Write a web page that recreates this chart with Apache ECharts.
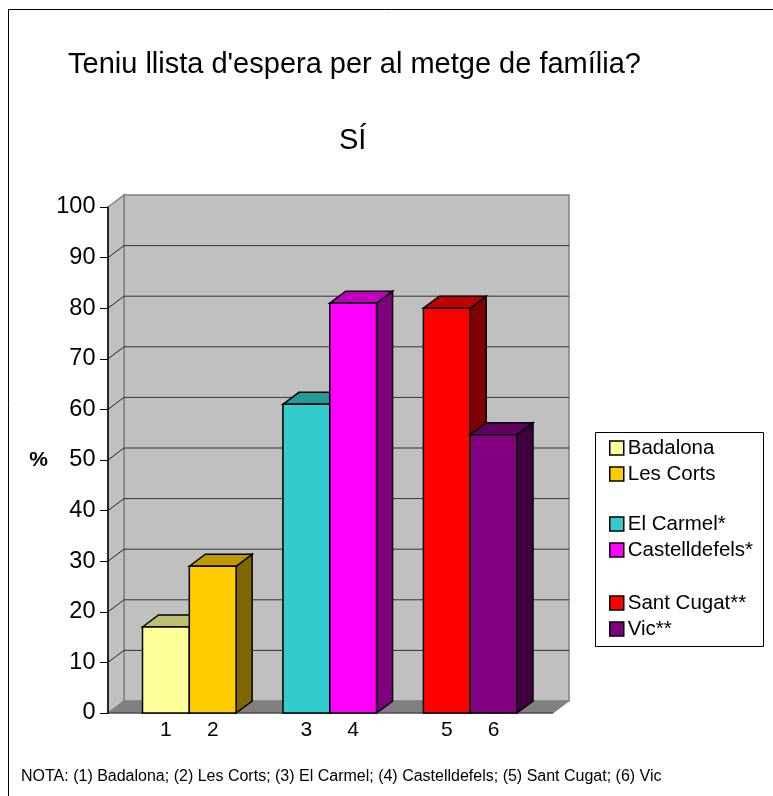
<!DOCTYPE html>
<html>
<head>
<meta charset="utf-8">
<title>Teniu llista d'espera</title>
<script src="https://cdn.jsdelivr.net/npm/echarts@6/dist/echarts.min.js"></script>
<style>
html, body { margin: 0; padding: 0; background: #fff; }
#main { width: 773px; height: 796px; }
</style>
</head>
<body>
<div id="main"></div>
<script>
// '' slots are the gaps between the three pairs of bars
var categories = ['1', '2', '', '3', '4', '', '5', '6'];
var barSlots = [0, 1, 3, 4, 6, 7];
var barNames = ['Badalona', 'Les Corts', 'El Carmel*', 'Castelldefels*', 'Sant Cugat**', 'Vic**'];
var barValues = [17, 29, 61, 81, 80, 55];
var frontColors = ['#FFFF99', '#FFCC00', '#33CCCC', '#FF00FF', '#FF0000', '#800080'];
var topColors = ['#BFBF73', '#BF9900', '#269999', '#BF00BF', '#BF0000', '#600060'];
var sideColors = ['#808000', '#806600', '#1A6666', '#800080', '#800000', '#400040'];
var yTicks = [0, 10, 20, 30, 40, 50, 60, 70, 80, 90, 100];

var DX = 16, DY = -12;         // depth of the 3D look
var LEFT_PAD = 34.5, RIGHT_PAD = 36;
var FONT = '"Liberation Sans", Arial, sans-serif';

var chart = echarts.init(document.getElementById('main'));

function poly(points, fill, stroke, width) {
    return {
        type: 'polygon',
        shape: { points: points },
        style: { fill: fill, stroke: stroke, lineWidth: width || 1 }
    };
}
function line(x1, y1, x2, y2, stroke, width) {
    return {
        type: 'line',
        shape: { x1: x1, y1: y1, x2: x2, y2: y2 },
        style: { stroke: stroke, lineWidth: width || 1 }
    };
}

// walls, floor and gridlines
function renderWalls(params, api) {
    var sys = params.coordSys;
    var x0 = sys.x - LEFT_PAD;
    var x1 = sys.x + sys.width + RIGHT_PAD;
    var y = api.coord([0, api.value(0)])[1];
    var children = [];
    if (params.dataIndex === 0) {
        var top = sys.y, bottom = sys.y + sys.height;
        children.push(poly([[x0 + DX, top + DY], [x1 + DX, top + DY], [x1 + DX, bottom + DY], [x0 + DX, bottom + DY]], '#C0C0C0', '#808080', 1.5));
        children.push(poly([[x0, top], [x0 + DX, top + DY], [x0 + DX, bottom + DY], [x0, bottom]], '#C0C0C0', '#808080', 1.5));
        children.push(poly([[x0, bottom], [x0 + DX, bottom + DY], [x1 + DX, bottom + DY], [x1, bottom]], '#808080', '#808080', 1));
        children.push(line(x0, bottom, x1, bottom, '#333333', 1));
    } else if (api.value(0) < 100) {
        children.push(line(x0, y, x0 + DX, y + DY, '#222222', 1));
        children.push(line(x0 + DX, y + DY, x1 + DX, y + DY, '#333333', 1));
    }
    return { type: 'group', children: children };
}

function renderBar(params, api) {
    var i = params.seriesIndex - 1;
    var start = api.coord([api.value(0), 0]);
    var end = api.coord([api.value(0), api.value(1)]);
    var w = api.size([1, 0])[0];
    var xl = start[0] - w / 2, xr = start[0] + w / 2;
    var yb = start[1], yt = end[1];
    return {
        type: 'group',
        children: [
            poly([[xr, yb], [xr + DX, yb + DY], [xr + DX, yt + DY], [xr, yt]], sideColors[i], '#000', 1.5),
            poly([[xl, yt], [xl + DX, yt + DY], [xr + DX, yt + DY], [xr, yt]], topColors[i], '#000', 1.5),
            poly([[xl, yt], [xr, yt], [xr, yb], [xl, yb]], frontColors[i], '#000', 1.5)
        ]
    };
}

var series = [{
    type: 'custom',
    name: 'walls',
    silent: true,
    z: 1,
    renderItem: renderWalls,
    encode: { y: 0 },
    data: yTicks.map(function (v) { return [v]; })
}];
barNames.forEach(function (name, i) {
    series.push({
        type: 'custom',
        name: name,
        z: 2,
        renderItem: renderBar,
        itemStyle: { color: frontColors[i] },
        encode: { x: 0, y: 1 },
        data: [[barSlots[i], barValues[i]]]
    });
});

function legendGroup(names, top) {
    return {
        orient: 'vertical',
        left: 609,
        top: top,
        padding: 0,
        itemWidth: 14,
        itemHeight: 14,
        itemGap: 0,
        icon: 'rect',
        selectedMode: false,
        itemStyle: { borderColor: '#000', borderWidth: 1.5 },
        textStyle: { fontFamily: FONT, fontSize: 20.5, lineHeight: 12, color: '#000', padding: [0, 0, 14, -1] },
        data: names
    };
}

chart.setOption({
    animation: false,
    backgroundColor: '#fff',
    title: [
        { text: "Teniu llista d'espera per al metge de família?", left: 68, top: 50, padding: 0, textStyle: { fontFamily: FONT, fontSize: 29, fontWeight: 'normal', color: '#000' } },
        { text: 'SÍ', left: 339, top: 126, padding: 0, textStyle: { fontFamily: FONT, fontSize: 29, fontWeight: 'normal', color: '#000' } },
        { text: 'NOTA: (1) Badalona; (2) Les Corts; (3) El Carmel; (4) Castelldefels; (5) Sant Cugat; (6) Vic', left: 21, top: 769, padding: 0, textStyle: { fontFamily: FONT, fontSize: 16, fontWeight: 'normal', color: '#000' } }
    ],
    legend: [
        legendGroup(barNames.slice(0, 2), 435),
        legendGroup(barNames.slice(2, 4), 511),
        legendGroup(barNames.slice(4, 6), 590)
    ],
    grid: { left: 142.5, top: 207, width: 374.5, height: 506 },
    xAxis: {
        type: 'category',
        data: categories,
        axisLine: { show: false },
        axisTick: { show: false },
        axisLabel: { fontFamily: FONT, fontSize: 21, color: '#000', margin: 7, interval: 0 }
    },
    yAxis: {
        type: 'value',
        min: 0,
        max: 100,
        interval: 10,
        offset: LEFT_PAD,
        z: 5,
        name: '%',
        nameLocation: 'middle',
        nameRotate: 0,
        nameGap: 60,
        nameTextStyle: { fontFamily: FONT, fontSize: 21, fontWeight: 'bold', color: '#000', padding: [12, 0, 0, 0] },
        splitLine: { show: false },
        axisLine: { show: true, lineStyle: { color: '#000', width: 1.5 } },
        axisTick: { show: true, length: 8, lineStyle: { color: '#000', width: 1 } },
        axisLabel: { fontFamily: FONT, fontSize: 23.5, color: '#000', margin: 12.5, padding: [8, 0, 0, 0] }
    },
    series: series,
    graphic: [
        { type: 'rect', z: -10, silent: true, shape: { x: 8.5, y: 9.5, width: 780, height: 800 }, style: { fill: 'none', stroke: '#000', lineWidth: 1 } },
        { type: 'rect', z: -10, silent: true, shape: { x: 595.5, y: 432.5, width: 168, height: 214 }, style: { fill: '#fff', stroke: '#000', lineWidth: 1 } }
    ]
});
</script>
</body>
</html>
